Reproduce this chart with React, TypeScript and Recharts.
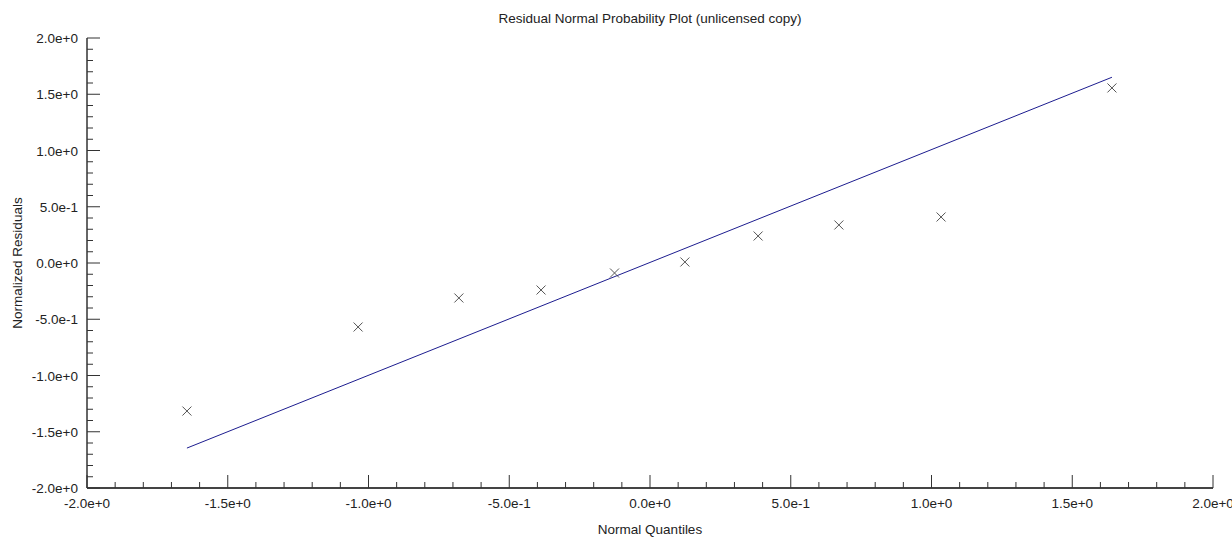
import { Scatter, ScatterChart, XAxis, YAxis } from 'recharts'

// normal quantiles vs normalized residuals
const quantiles = [-1.645, -1.037, -0.679, -0.387, -0.126, 0.124, 0.384, 0.671, 1.034, 1.641]
const residuals = [-1.316, -0.569, -0.311, -0.24, -0.089, 0.009, 0.24, 0.338, 0.409, 1.556]

// fitted reference line end points
const fitX = [-1.645, 1.641]
const fitY = [-1.645, 1.651]

const majorTicks = [-2, -1.5, -1, -0.5, 0, 0.5, 1, 1.5, 2]
const minorStep = 0.1

const points = quantiles.map((q, i) => ({ x: q, y: residuals[i] }))
const fitLine = fitX.map((x, i) => ({ x, y: fitY[i] }))

const allTicks: number[] = []
for (let i = 0; i <= 40; i++) allTicks.push(Math.round((-2 + i * minorStep) * 10) / 10)

const isMajor = (v: number) => majorTicks.some((m) => Math.abs(m - v) < 1e-6)
const fmt = (v: number) => v.toExponential(1)

const FONT = '"Liberation Sans", Arial, sans-serif'
const FS = 13.5

function XTick(props: any) {
  const { x, y, payload } = props
  const major = isMajor(payload.value)
  return (
    <g>
      <line x1={x} x2={x} y1={y} y2={y - (major ? 13 : 6)} stroke="#333" strokeWidth={1} />
      {major ? (
        <text x={x} y={y + 20} textAnchor="middle" fontSize={FS} fontFamily={FONT} fill="#222">
          {fmt(payload.value)}
        </text>
      ) : null}
    </g>
  )
}

function YTick(props: any) {
  const { x, y, payload } = props
  const major = isMajor(payload.value)
  return (
    <g>
      <line x1={x} x2={x + (major ? 13 : 6)} y1={y} y2={y} stroke="#333" strokeWidth={1} />
      {major ? (
        <text x={x - 9} y={y + 5} textAnchor="end" fontSize={FS} fontFamily={FONT} fill="#222">
          {fmt(payload.value)}
        </text>
      ) : null}
    </g>
  )
}

function Cross(props: any) {
  const { cx, cy } = props
  const r = 4.5
  return (
    <g stroke="#555" strokeWidth={1}>
      <line x1={cx - r} y1={cy - r} x2={cx + r} y2={cy + r} />
      <line x1={cx - r} y1={cy + r} x2={cx + r} y2={cy - r} />
    </g>
  )
}

export default function App() {
  return (
    <div style={{ position: 'absolute', left: 0, top: 0, width: 1232, height: 538, background: '#fff', fontFamily: FONT }}>
      <div style={{ position: 'absolute', top: 11, left: 87, width: 1126, textAlign: 'center', fontSize: FS, color: '#222' }}>
        Residual Normal Probability Plot (unlicensed copy)
      </div>
      <div style={{ position: 'absolute', top: 522, left: 87, width: 1126, textAlign: 'center', fontSize: FS, color: '#222' }}>
        Normal Quantiles
      </div>
      <div
        style={{
          position: 'absolute',
          left: 17,
          top: 263,
          fontSize: FS,
          color: '#222',
          whiteSpace: 'nowrap',
          transform: 'translate(-50%, -50%) rotate(-90deg)',
        }}
      >
        Normalized Residuals
      </div>
      <ScatterChart width={1232} height={538} margin={{ top: 38, right: 19, bottom: 20, left: 0 }}>
        <XAxis
          type="number"
          dataKey="x"
          domain={[-2, 2]}
          ticks={allTicks}
          interval={0}
          allowDataOverflow
          height={30}
          tickSize={0}
          tickMargin={0}
          tickLine={false}
          tick={<XTick />}
          axisLine={{ stroke: '#444', strokeWidth: 2 }}
        />
        <XAxis
          xAxisId="top"
          orientation="top"
          type="number"
          domain={[-2, 2]}
          height={0}
          tick={false}
          tickLine={false}
          axisLine={{ stroke: '#000', strokeWidth: 1 }}
        />
        <YAxis
          type="number"
          dataKey="y"
          domain={[-2, 2]}
          ticks={allTicks}
          interval={0}
          allowDataOverflow
          width={87}
          tickSize={0}
          tickMargin={0}
          tickLine={false}
          tick={<YTick />}
          axisLine={{ stroke: '#333', strokeWidth: 1.5 }}
        />
        <YAxis
          yAxisId="right"
          orientation="right"
          type="number"
          domain={[-2, 2]}
          width={0}
          tick={false}
          tickLine={false}
          axisLine={{ stroke: '#000', strokeWidth: 1 }}
        />
        <Scatter
          data={fitLine}
          line={{ stroke: '#1c1c8f', strokeWidth: 1 }}
          shape={() => <g />}
          isAnimationActive={false}
        />
        <Scatter data={points} shape={<Cross />} isAnimationActive={false} />
      </ScatterChart>
    </div>
  )
}
